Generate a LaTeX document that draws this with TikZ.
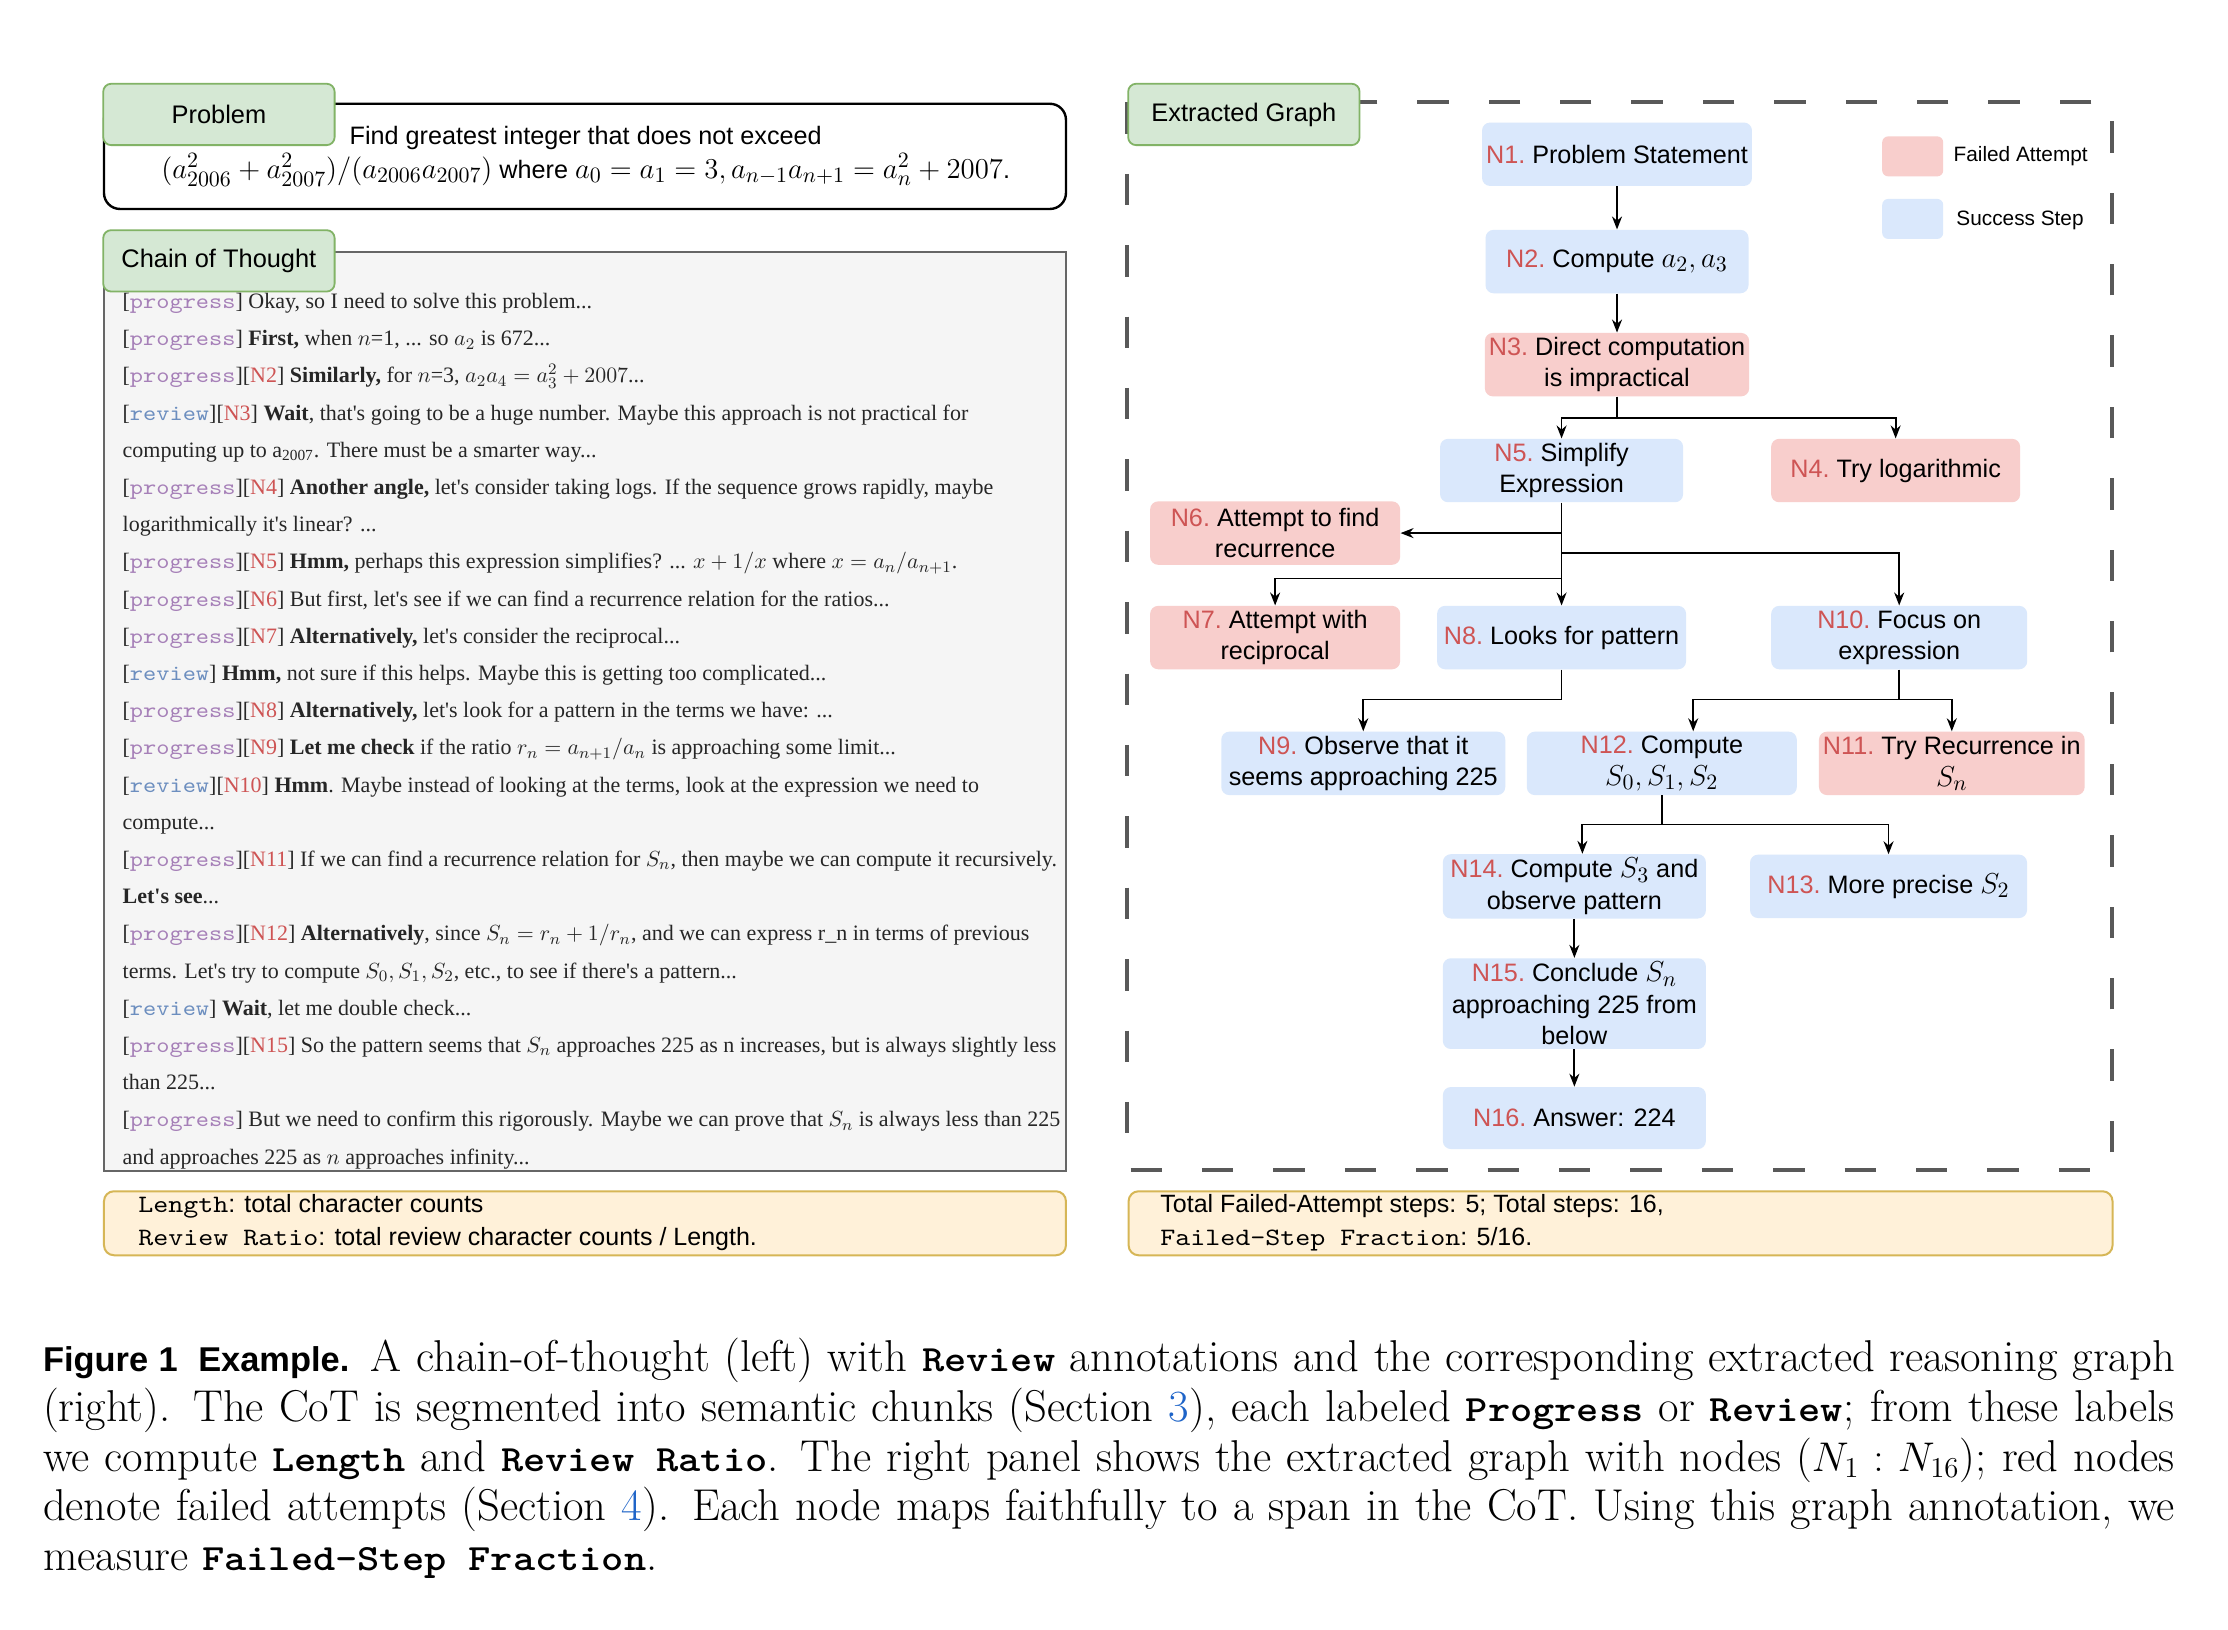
\documentclass[tikz,border=0pt]{standalone}
\usepackage{amsmath,amssymb}
\usepackage{fontspec}
\setsansfont{Liberation Sans}
\setmonofont{lmmono10-regular.otf}[FakeStretch=1.143, BoldFont=lmmonolt10-bold.otf]
\newfontfamily\cotfont{Liberation Serif}
\usepackage{xcolor}
\definecolor{tabgreen}{HTML}{D5E8D4}
\definecolor{tabedge}{HTML}{82B366}
\definecolor{okblue}{HTML}{DAE8FC}
\definecolor{failred}{HTML}{F8CECC}
\definecolor{nred}{RGB}{206,84,84}
\definecolor{progpurple}{HTML}{A680B8}
\definecolor{revblue}{HTML}{6C8EBF}
\definecolor{cotgray}{HTML}{F5F5F5}
\definecolor{cotedge}{HTML}{666666}
\definecolor{notefill}{HTML}{FFF1D9}
\definecolor{noteedge}{HTML}{D6B656}
\definecolor{linkblue}{RGB}{30,100,200}
\usepackage{tikz}
\usetikzlibrary{
    arrows.meta,
    positioning
}

\newcommand{\nid}[1]{\textcolor{nred}{#1.}\ }
\newcommand{\nodemath}[1]{{\fontsize{15.3}{15.7}\selectfont$#1$}}
\newcommand{\prog}{[\textcolor{progpurple}{\texttt{progress}}]}
\newcommand{\rev}{[\textcolor{revblue}{\texttt{review}}]}
\newcommand{\nref}[1]{[\textcolor{nred}{#1}]}
\newcommand{\capkw}[1]{{\fontsize{18.5}{24.9}\selectfont\texttt{\bfseries #1}}}
\newcommand{\capsf}[1]{{\fontsize{17.2}{24.9}\selectfont\sffamily\bfseries #1}}

\tikzset{
    tabbox/.style={draw=tabedge, fill=tabgreen, rounded corners=4pt, line width=0.9pt,
        minimum width=115.7pt, minimum height=30.7pt, font=\sffamily\fontsize{12.7}{15}\selectfont},
    stepnode/.style={rounded corners=4pt, align=center, inner sep=2pt, minimum height=31.7pt,
        font=\sffamily\fontsize{12.6}{15.7}\selectfont},
    okstep/.style={stepnode, fill=okblue},
    failstep/.style={stepnode, fill=failred},
    link/.style={-{Stealth[length=6.5pt,width=5pt]}, line width=0.9pt},
    notebox/.style={draw=noteedge, fill=notefill, rounded corners=5pt, line width=1pt,
        minimum width=481pt, minimum height=32pt},
    notetext/.style={anchor=west, align=left, inner sep=0pt,
        font=\sffamily\fontsize{12.5}{16.4}\selectfont}
}

\begin{document}
\begin{tikzpicture}[x=0.7108pt, y=-0.7108pt]
    \useasboundingbox (0,0) rectangle (1567.3,1146.6);
    \fill[white] (0,0) rectangle (1567.3,1146.6);

    % Problem panel
    \node[draw=black, rounded corners=8pt, line width=1.2pt, minimum width=481pt, minimum height=52.6pt] (probbox) at (411.5,110) {};
    \node[tabbox] (probtab) at (154,80.5) {Problem};
    \node[align=center, font=\sffamily\fontsize{12.6}{17}\selectfont] (probtxt) at (412,110)
        {Find greatest integer that does not exceed\\
         \nodemath{(a_{2006}^2+a_{2007}^2)/(a_{2006}a_{2007})} where \nodemath{a_0=a_1=3, a_{n-1}a_{n+1}=a_n^2+2007}.};

    % Chain of thought panel
    \node[draw=cotedge, fill=cotgray, line width=1pt, minimum width=481pt, minimum height=460pt] (cotbox) at (411.5,500.5) {};
    \node[tabbox] (cottab) at (154,183.5) {Chain of Thought};
    \node[anchor=north west, align=left, inner sep=0pt, text=black!85,
          font=\cotfont\fontsize{11}{18.6}\selectfont] (cottxt) at (86,206) {%
        \prog{} Okay, so I need to solve this problem...\\
        \prog{} \textbf{First,} when $n$=1, ... so $a_2$ is 672...\\
        \prog\nref{N2} \textbf{Similarly,} for $n$=3, $a_2a_4=a_3^2+2007$...\\
        \rev\nref{N3} \textbf{Wait}, that's going to be a huge number. Maybe this approach is not practical for\\
        computing up to a\textsubscript{2007}. There must be a smarter way...\\
        \prog\nref{N4} \textbf{Another angle,} let's consider taking logs. If the sequence grows rapidly, maybe\\
        logarithmically it's linear? ...\\
        \prog\nref{N5} \textbf{Hmm,} perhaps this expression simplifies? ... $x+1/x$ where $x=a_n/a_{n+1}$.\\
        \prog\nref{N6} But first, let's see if we can find a recurrence relation for the ratios...\\
        \prog\nref{N7} \textbf{Alternatively,} let's consider the reciprocal...\\
        \rev{} \textbf{Hmm,} not sure if this helps. Maybe this is getting too complicated...\\
        \prog\nref{N8} \textbf{Alternatively,} let's look for a pattern in the terms we have: ...\\
        \prog\nref{N9} \textbf{Let me check} if the ratio $r_n=a_{n+1}/a_n$ is approaching some limit...\\
        \rev\nref{N10} \textbf{Hmm}. Maybe instead of looking at the terms, look at the expression we need to\\
        compute...\\
        \prog\nref{N11} If we can find a recurrence relation for $S_n$, then maybe we can compute it recursively.\\
        \textbf{Let's see}...\\
        \prog\nref{N12} \textbf{Alternatively}, since $S_n=r_n+1/r_n$, and we can express r\_n in terms of previous\\
        terms. Let's try to compute $S_0,S_1,S_2$, etc., to see if there's a pattern...\\
        \rev{} \textbf{Wait}, let me double check...\\
        \prog\nref{N15} So the pattern seems that $S_n$ approaches 225 as n increases, but is always slightly less\\
        than 225...\\
        \prog{} But we need to confirm this rigorously. Maybe we can prove that $S_n$ is always less than 225\\
        and approaches 225 as $n$ approaches infinity...};

    % Notes below the panels
    \node[notebox] (lenbox) at (411.5,860.5) {};
    \node[notetext] (lentxt) at (97,860) {\texttt{Length}: total character counts\\
        \texttt{Review Ratio}: total review character counts / Length.};
    \node[notebox, minimum width=492pt] (failbox) at (1140,860.5) {};
    \node[notetext] (failtxt) at (816,860) {Total Failed-Attempt steps: 5; Total steps: 16,\\
        \texttt{Failed-Step Fraction}: 5/16.};

    % Extracted graph panel
    \draw[draw=black!65, line width=2pt, dash pattern=on 15.7pt off 20pt] (793,72) rectangle (1486,823);
    \node[tabbox] (graphtab) at (875,80.5) {Extracted Graph};

    % Legend
    \node[fill=failred, rounded corners=3pt, minimum width=30.5pt, minimum height=20pt] (lgfail) at (1345.5,110) {};
    \node[anchor=west, inner sep=0pt, font=\sffamily\fontsize{10.4}{12}\selectfont] (lgfailtxt) at (1374,110) {Failed Attempt};
    \node[fill=okblue, rounded corners=3pt, minimum width=30.5pt, minimum height=20pt] (lgok) at (1345.5,154) {};
    \node[anchor=west, inner sep=0pt, font=\sffamily\fontsize{10.4}{12}\selectfont] (lgoktxt) at (1376,155) {Success Step};

    % Steps
    \node[okstep, minimum width=131.5pt] (n1) at (1137.5,108.5) {\nid{N1}Problem Statement};
    \node[okstep, minimum width=131.5pt] (n2) at (1137.5,184) {\nid{N2}Compute \nodemath{a_2,a_3}};
    \node[failstep, minimum width=131.5pt] (n3) at (1137.5,256.5) {\nid{N3}Direct computation\\is impractical};
    \node[okstep, minimum width=121.5pt] (n5) at (1098.5,331) {\nid{N5}Simplify\\Expression};
    \node[failstep, minimum width=124.5pt] (n4) at (1333.5,331) {\nid{N4}Try logarithmic};
    \node[failstep, minimum width=125pt] (n6) at (897,375) {\nid{N6}Attempt to find\\recurrence};
    \node[failstep, minimum width=125pt] (n7) at (897,448.5) {\nid{N7}Attempt with\\reciprocal};
    \node[okstep, minimum width=124.5pt] (n8) at (1098.5,448.5) {\nid{N8}Looks for pattern};
    \node[okstep, minimum width=128pt] (n10) at (1336,448.5) {\nid{N10}Focus on\\expression};
    \node[okstep, minimum width=142pt] (n9) at (959,537) {\nid{N9}Observe that it\\seems approaching 225};
    \node[okstep, minimum width=135pt] (n12) at (1169,537) {\nid{N12}Compute\\\nodemath{S_0,S_1,S_2}};
    \node[failstep, minimum width=132pt] (n11) at (1373,537) {\nid{N11}Try Recurrence in\\\nodemath{S_n}};
    \node[okstep, minimum width=131.5pt] (n14) at (1107.5,623.5) {\nid{N14}Compute \nodemath{S_3} and\\observe pattern};
    \node[okstep, minimum width=138.5pt] (n13) at (1328.5,623.5) {\nid{N13}More precise \nodemath{S_2}};
    \node[okstep, minimum width=131.5pt, minimum height=43pt] (n15) at (1107.5,706) {\nid{N15}Conclude \nodemath{S_n}\\approaching 225 from\\below};
    \node[okstep, minimum width=131.5pt, minimum height=31pt] (n16) at (1107.5,786.5) {\nid{N16}Answer: 224};

    % Branch points
    \coordinate (s3) at (1137.5,294);
    \coordinate (s5a) at (1098.5,375);
    \coordinate (s5b) at (1098.5,389);
    \coordinate (s5c) at (1098.5,407);
    \coordinate (s8) at (1098.5,492);
    \coordinate (s10) at (1336,492);
    \coordinate (s12) at (1169,580);

    % Connectors
    \draw[link] (n1) -- (n2);
    \draw[link] (n2) -- (n3);
    \draw[link] (n3) -- (s3) -| (n5);
    \draw[link] (s3) -| (n4);
    \draw[link] (n5) -- (n8);
    \draw[link] (s5a) -- (n6);
    \draw[link] (s5b) -| (n10);
    \draw[link] (s5c) -| (n7);
    \draw[link] (n8) -- (s8) -| (n9);
    \draw[link] (n10) -- (s10) -| ([xshift=15.7pt]n12.north);
    \draw[link] (s10) -| (n11);
    \draw[link] (n12) -- (s12) -| ([xshift=4pt]n14.north);
    \draw[link] (s12) -| (n13);
    \draw[link] (n14) -- (n15);
    \draw[link] (n15) -- (n16);

    % Caption
    \node[anchor=north west, text width=1066pt, align=justify, inner sep=0pt,
          font=\fontsize{22.3}{24.9}\selectfont] (caption) at (30,941) {%
        \capsf{Figure 1\hspace{0.6em}Example.} A chain-of-thought (left) with \capkw{Review} annotations and the corresponding extracted reasoning graph (right). The CoT is segmented into semantic chunks (Section~\textcolor{linkblue}{3}), each labeled \capkw{Progress} or \capkw{Review}; from these labels we compute \capkw{Length} and \capkw{Review Ratio}. The right panel shows the extracted graph with nodes ($N_1 : N_{16}$); red nodes denote failed attempts (Section~\textcolor{linkblue}{4}). Each node maps faithfully to a span in the CoT. Using this graph annotation, we measure \capkw{Failed-Step Fraction}.};
\end{tikzpicture}
\end{document}
